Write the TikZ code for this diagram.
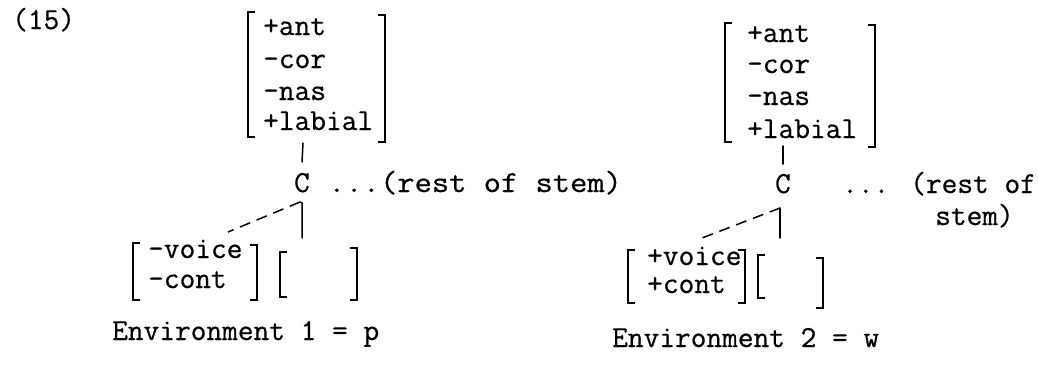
\documentclass[tikz,border=0pt]{standalone}
\usepackage{fontspec}
\newfontfamily\tw[FakeBold=0.6]{Latin Modern Mono}
\tikzset{
  txt/.style={inner sep=0pt, anchor=base west, font=\tw\fontsize{30.5}{34}\selectfont},
  ctr/.style={inner sep=0pt, anchor=base, font=\tw\fontsize{30.5}{34}\selectfont},
  ln/.style={line width=1.5pt, line cap=round},
  dsh/.style={line width=1.5pt, dash pattern=on 11pt off 7pt},
  brk/.style={line width=1.8pt, line join=miter}
}
\newcommand\mylbr[3]{\draw[brk] (#1,#2) ++(7,0) -- ++(-7,0) -- (#1,#3) -- ++(7,0);}
\newcommand\myrbr[3]{\draw[brk] (#1,#2) ++(-7,0) -- ++(7,0) -- (#1,#3) -- ++(-7,0);}
\begin{document}
\begin{tikzpicture}[x=1pt,y=-1pt]
\useasboundingbox (0,0) rectangle (1038,364);
% label
\node[txt] (num) at (12,29) {(15)};
% ---------- Environment 1 ----------
\mylbr{248}{12}{137}
\myrbr{385}{15}{142}
\node[txt] (a1) at (263,35) {+ant};
\node[txt] (b1) at (263,68) {–cor};
\node[txt] (c1) at (263,100) {–nas};
\node[txt] (d1) at (263,130) {+labial};
\coordinate (top1) at (303,143);
\coordinate (bot1) at (302,162);
\draw[ln] (top1) -- (bot1);
\node[ctr] (C1) at (302,192) {C};
\node[txt] (rest1) at (328,192) {\scalebox{1.1}[1]{...(rest of stem)}};
\coordinate (cs1) at (300,202);
\coordinate (dl1) at (228,232);
\coordinate (vl1) at (302,238);
\draw[dsh] (cs1) -- (dl1);
\draw[ln] (cs1) -- (302,203) -- (vl1);
\mylbr{133}{243}{300}
\myrbr{257}{245}{300}
\node[txt] (v1) at (148,258) {–voice};
\node[txt] (k1) at (148,288) {–cont};
\mylbr{280}{252}{297}
\myrbr{357}{248}{300}
\node[txt] (env1) at (112,340) {Environment 1 = p};
% ---------- Environment 2 ----------
\mylbr{725}{23}{142}
\myrbr{875}{25}{147}
\node[txt] (a2) at (747,42) {+ant};
\node[txt] (b2) at (747,73) {–cor};
\node[txt] (c2) at (747,105) {–nas};
\node[txt] (d2) at (747,138) {+labial};
\coordinate (top2) at (783,146);
\coordinate (bot2) at (783,164);
\draw[ln] (top2) -- (bot2);
\node[ctr] (C2) at (783,193) {C};
\node[txt] (rest2) at (842,193) {... (rest of};
\node[txt] (stem2) at (935,225) {stem)};
\coordinate (cs2) at (780,208);
\coordinate (dl2) at (702,238);
\coordinate (vl2) at (780,238);
\draw[dsh] (cs2) -- (dl2);
\draw[ln] (cs2) -- (vl2);
\mylbr{628}{250}{303}
\myrbr{745}{250}{303}
\node[txt] (v2) at (647,265) {+voice};
\node[txt] (k2) at (647,293) {+cont};
\mylbr{758}{255}{298}
\myrbr{823}{258}{308}
\node[txt] (env2) at (612,347) {Environment 2 = w};
\end{tikzpicture}
\end{document}
